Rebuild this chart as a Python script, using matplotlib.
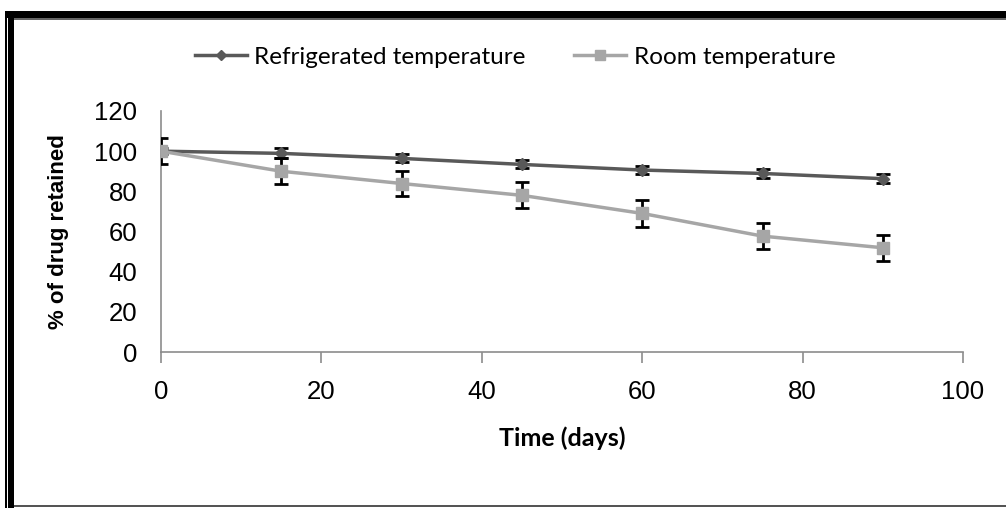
import matplotlib.pyplot as plt
from matplotlib.patches import Rectangle

days = [0, 15, 30, 45, 60, 75, 90]
refrigerated = [100, 98.9, 96.4, 93.4, 90.6, 88.9, 86.3]
refrigerated_err = [1.5, 2.5, 2.0, 2.0, 2.2, 2.2, 2.2]
room = [100, 90.0, 83.9, 78.0, 69.0, 57.7, 51.9]
room_err = [6.5, 6.4, 6.4, 6.5, 6.6, 6.5, 6.5]

W, H = 1006, 508
fig = plt.figure(figsize=(W / 100, H / 100), dpi=100)
ax = fig.add_axes([161 / W, 1 - 352 / H, (963 - 161) / W, (352 - 111) / H])

ax.errorbar(days, refrigerated, yerr=refrigerated_err, color='#595959', lw=2.5,
            marker='D', ms=6, ecolor='black', elinewidth=2, capsize=5, capthick=2,
            label='Refrigerated temperature', zorder=3)
ax.errorbar(days, room, yerr=room_err, color='#A6A6A6', lw=2.5,
            marker='s', ms=9, ecolor='black', elinewidth=2, capsize=5, capthick=2,
            label='Room temperature', zorder=4)

ax.set_xlim(0, 100)
ax.set_ylim(0, 120)
ax.set_xticks(range(0, 101, 20))
ax.set_yticks(range(0, 121, 20))
for s in ['top', 'right']:
    ax.spines[s].set_visible(False)
for s in ['left', 'bottom']:
    ax.spines[s].set_color('#8c8c8c')
    ax.spines[s].set_linewidth(1.2)
ax.tick_params(axis='x', direction='out', length=8, width=1.2, color='#8c8c8c',
               labelsize=18.5, pad=12)
ax.tick_params(axis='y', length=0, labelsize=18.5, pad=17)
for lab in ax.get_xticklabels() + ax.get_yticklabels():
    lab.set_fontfamily('Liberation Sans')

ax.set_ylabel('% of drug retained', fontfamily='Liberation Sans', fontweight='bold',
              fontsize=16, labelpad=18)
ax.set_xlabel('Time (days)', fontfamily='Lato', fontweight='bold', fontsize=18, labelpad=16)

handles, labels = ax.get_legend_handles_labels()
handles = [h[0] for h in handles]
leg = fig.legend(handles, labels, loc='center', bbox_to_anchor=(515 / W, 1 - 57 / H),
                 ncol=2, frameon=False, prop={'family': 'Lato', 'size': 17.5},
                 handlelength=2.15, columnspacing=2.0, handletextpad=0.3, markerscale=0.8)

# outer frame
fig.add_artist(Rectangle((5 / W, 1 - 18 / H), 1 - 5 / W, 7 / H, transform=fig.transFigure,
                         color='black', lw=0))
fig.add_artist(Rectangle((14 / W, 1 - 19.5 / H), 1 - 14 / W, 1.5 / H, transform=fig.transFigure,
                         color='#666666', lw=0))
fig.add_artist(Rectangle((5 / W, 0), 1.5 / W, 1 - 11 / H, transform=fig.transFigure,
                         color='black', lw=0))
fig.add_artist(Rectangle((8 / W, 0), 6 / W, 1 - 13 / H, transform=fig.transFigure,
                         color='black', lw=0))
fig.add_artist(Rectangle((14 / W, 1 / H), 1 - 14 / W, 2 / H, transform=fig.transFigure,
                         color='#555555', lw=0))

fig.savefig('out.png', dpi=100)
